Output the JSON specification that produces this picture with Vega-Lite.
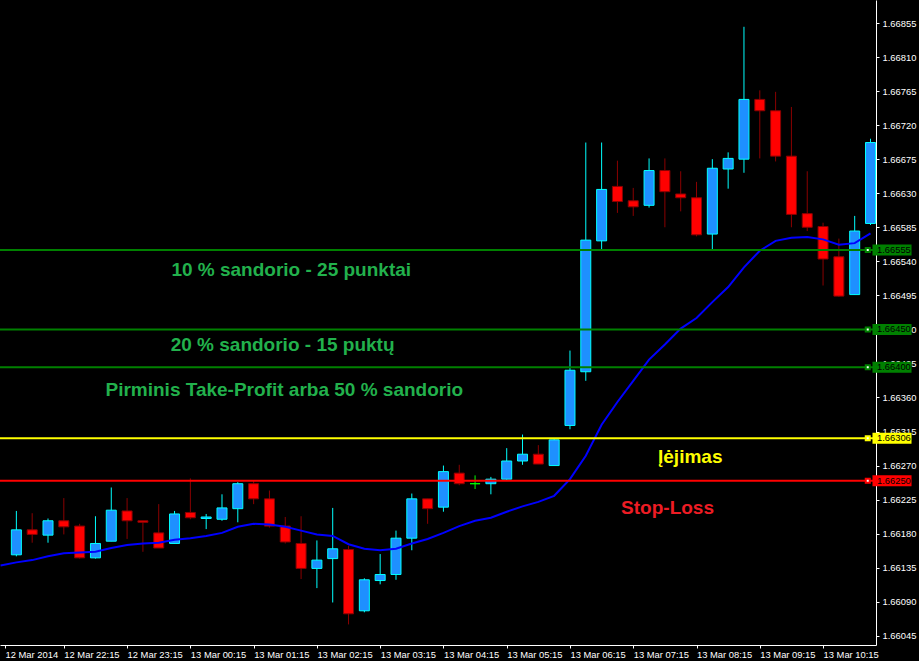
{
  "$schema": "https://vega.github.io/schema/vega-lite/v6.json",
  "width": 876,
  "height": 645,
  "autosize": {"type": "none"},
  "padding": {"left": 0, "top": 0, "right": 43, "bottom": 16},
  "background": "#000000",
  "config": {
    "view": {"stroke": null, "fill": "#000000"},
    "axis": {"domainColor": "#FFFFFF", "tickColor": "#FFFFFF", "labelColor": "#FFFFFF", "labelFont": "Liberation Sans", "labelFontSize": 9.4, "grid": false, "domainWidth": 1, "tickWidth": 1, "tickSize": 3, "labelOverlap": false, "labelFlush": false}
  },
  "resolve": {"scale": {"color": "independent"}},
  "datasets": {
    "candles": [
      {"t": "2014-03-12T21:30:00", "o": 1.66152, "h": 1.66210, "l": 1.66150, "c": 1.66185},
      {"t": "2014-03-12T21:45:00", "o": 1.66185, "h": 1.66207, "l": 1.66168, "c": 1.66179},
      {"t": "2014-03-12T22:00:00", "o": 1.66178, "h": 1.66200, "l": 1.66168, "c": 1.66197},
      {"t": "2014-03-12T22:15:00", "o": 1.66197, "h": 1.66227, "l": 1.66179, "c": 1.66189},
      {"t": "2014-03-12T22:30:00", "o": 1.66190, "h": 1.66193, "l": 1.66147, "c": 1.66148},
      {"t": "2014-03-12T22:45:00", "o": 1.66148, "h": 1.66203, "l": 1.66147, "c": 1.66167},
      {"t": "2014-03-12T23:00:00", "o": 1.66170, "h": 1.66241, "l": 1.66170, "c": 1.66211},
      {"t": "2014-03-12T23:15:00", "o": 1.66210, "h": 1.66227, "l": 1.66173, "c": 1.66197},
      {"t": "2014-03-12T23:30:00", "o": 1.66197, "h": 1.66197, "l": 1.66156, "c": 1.66195},
      {"t": "2014-03-12T23:45:00", "o": 1.66181, "h": 1.66219, "l": 1.66161, "c": 1.66161},
      {"t": "2014-03-13T00:00:00", "o": 1.66167, "h": 1.66210, "l": 1.66167, "c": 1.66206},
      {"t": "2014-03-13T00:15:00", "o": 1.66208, "h": 1.66253, "l": 1.66199, "c": 1.66201},
      {"t": "2014-03-13T00:30:00", "o": 1.66200, "h": 1.66206, "l": 1.66186, "c": 1.66202},
      {"t": "2014-03-13T00:45:00", "o": 1.66199, "h": 1.66232, "l": 1.66197, "c": 1.66214},
      {"t": "2014-03-13T01:00:00", "o": 1.66213, "h": 1.66248, "l": 1.66195, "c": 1.66246},
      {"t": "2014-03-13T01:15:00", "o": 1.66246, "h": 1.66250, "l": 1.66219, "c": 1.66226},
      {"t": "2014-03-13T01:30:00", "o": 1.66226, "h": 1.66237, "l": 1.66188, "c": 1.66190},
      {"t": "2014-03-13T01:45:00", "o": 1.66190, "h": 1.66202, "l": 1.66167, "c": 1.66169},
      {"t": "2014-03-13T02:00:00", "o": 1.66167, "h": 1.66203, "l": 1.66120, "c": 1.66134},
      {"t": "2014-03-13T02:15:00", "o": 1.66134, "h": 1.66171, "l": 1.66108, "c": 1.66145},
      {"t": "2014-03-13T02:30:00", "o": 1.66147, "h": 1.66214, "l": 1.66089, "c": 1.66160},
      {"t": "2014-03-13T02:45:00", "o": 1.66159, "h": 1.66164, "l": 1.66060, "c": 1.66074},
      {"t": "2014-03-13T03:00:00", "o": 1.66078, "h": 1.66121, "l": 1.66076, "c": 1.66119},
      {"t": "2014-03-13T03:15:00", "o": 1.66118, "h": 1.66153, "l": 1.66113, "c": 1.66126},
      {"t": "2014-03-13T03:30:00", "o": 1.66126, "h": 1.66184, "l": 1.66119, "c": 1.66174},
      {"t": "2014-03-13T03:45:00", "o": 1.66174, "h": 1.66233, "l": 1.66158, "c": 1.66226},
      {"t": "2014-03-13T04:00:00", "o": 1.66226, "h": 1.66226, "l": 1.66193, "c": 1.66213},
      {"t": "2014-03-13T04:15:00", "o": 1.66215, "h": 1.66270, "l": 1.66209, "c": 1.66262},
      {"t": "2014-03-13T04:30:00", "o": 1.66260, "h": 1.66271, "l": 1.66244, "c": 1.66246},
      {"t": "2014-03-13T04:45:00", "o": 1.66246, "h": 1.66257, "l": 1.66239, "c": 1.66246},
      {"t": "2014-03-13T05:00:00", "o": 1.66246, "h": 1.66255, "l": 1.66232, "c": 1.66252},
      {"t": "2014-03-13T05:15:00", "o": 1.66252, "h": 1.66293, "l": 1.66251, "c": 1.66276},
      {"t": "2014-03-13T05:30:00", "o": 1.66276, "h": 1.66311, "l": 1.66271, "c": 1.66285},
      {"t": "2014-03-13T05:45:00", "o": 1.66285, "h": 1.66297, "l": 1.66272, "c": 1.66272},
      {"t": "2014-03-13T06:00:00", "o": 1.66270, "h": 1.66305, "l": 1.66270, "c": 1.66304},
      {"t": "2014-03-13T06:15:00", "o": 1.66323, "h": 1.66422, "l": 1.66318, "c": 1.66396},
      {"t": "2014-03-13T06:30:00", "o": 1.66394, "h": 1.66697, "l": 1.66382, "c": 1.66568},
      {"t": "2014-03-13T06:45:00", "o": 1.66567, "h": 1.66697, "l": 1.66556, "c": 1.66635},
      {"t": "2014-03-13T07:00:00", "o": 1.66639, "h": 1.66673, "l": 1.66604, "c": 1.66619},
      {"t": "2014-03-13T07:15:00", "o": 1.66620, "h": 1.66637, "l": 1.66600, "c": 1.66612},
      {"t": "2014-03-13T07:30:00", "o": 1.66614, "h": 1.66676, "l": 1.66611, "c": 1.66660},
      {"t": "2014-03-13T07:45:00", "o": 1.66660, "h": 1.66676, "l": 1.66585, "c": 1.66632},
      {"t": "2014-03-13T08:00:00", "o": 1.66629, "h": 1.66659, "l": 1.66606, "c": 1.66624},
      {"t": "2014-03-13T08:15:00", "o": 1.66624, "h": 1.66645, "l": 1.66573, "c": 1.66575},
      {"t": "2014-03-13T08:30:00", "o": 1.66576, "h": 1.66675, "l": 1.66556, "c": 1.66663},
      {"t": "2014-03-13T08:45:00", "o": 1.66662, "h": 1.66684, "l": 1.66636, "c": 1.66676},
      {"t": "2014-03-13T09:00:00", "o": 1.66675, "h": 1.66850, "l": 1.66657, "c": 1.66754},
      {"t": "2014-03-13T09:15:00", "o": 1.66754, "h": 1.66766, "l": 1.66676, "c": 1.66739},
      {"t": "2014-03-13T09:30:00", "o": 1.66739, "h": 1.66764, "l": 1.66672, "c": 1.66679},
      {"t": "2014-03-13T09:45:00", "o": 1.66679, "h": 1.66744, "l": 1.66585, "c": 1.66602},
      {"t": "2014-03-13T10:00:00", "o": 1.66603, "h": 1.66659, "l": 1.66580, "c": 1.66585},
      {"t": "2014-03-13T10:15:00", "o": 1.66586, "h": 1.66591, "l": 1.66508, "c": 1.66543},
      {"t": "2014-03-13T10:30:00", "o": 1.66546, "h": 1.66570, "l": 1.66493, "c": 1.66494},
      {"t": "2014-03-13T10:45:00", "o": 1.66496, "h": 1.66600, "l": 1.66496, "c": 1.66580},
      {"t": "2014-03-13T11:00:00", "o": 1.66590, "h": 1.66702, "l": 1.66588, "c": 1.66697}
    ],
    "ma": [
      {"t": "2014-03-12T21:15:00", "v": 1.66138},
      {"t": "2014-03-12T21:30:00", "v": 1.66142},
      {"t": "2014-03-12T21:45:00", "v": 1.66145},
      {"t": "2014-03-12T22:00:00", "v": 1.66150},
      {"t": "2014-03-12T22:15:00", "v": 1.66154},
      {"t": "2014-03-12T22:30:00", "v": 1.66155},
      {"t": "2014-03-12T22:45:00", "v": 1.66156},
      {"t": "2014-03-12T23:00:00", "v": 1.66161},
      {"t": "2014-03-12T23:15:00", "v": 1.66165},
      {"t": "2014-03-12T23:30:00", "v": 1.66167},
      {"t": "2014-03-12T23:45:00", "v": 1.66168},
      {"t": "2014-03-13T00:00:00", "v": 1.66172},
      {"t": "2014-03-13T00:15:00", "v": 1.66174},
      {"t": "2014-03-13T00:30:00", "v": 1.66177},
      {"t": "2014-03-13T00:45:00", "v": 1.66181},
      {"t": "2014-03-13T01:00:00", "v": 1.66189},
      {"t": "2014-03-13T01:15:00", "v": 1.66193},
      {"t": "2014-03-13T01:30:00", "v": 1.66192},
      {"t": "2014-03-13T01:45:00", "v": 1.66189},
      {"t": "2014-03-13T02:00:00", "v": 1.66184},
      {"t": "2014-03-13T02:15:00", "v": 1.66179},
      {"t": "2014-03-13T02:30:00", "v": 1.66177},
      {"t": "2014-03-13T02:45:00", "v": 1.66166},
      {"t": "2014-03-13T03:00:00", "v": 1.66160},
      {"t": "2014-03-13T03:15:00", "v": 1.66158},
      {"t": "2014-03-13T03:30:00", "v": 1.66160},
      {"t": "2014-03-13T03:45:00", "v": 1.66167},
      {"t": "2014-03-13T04:00:00", "v": 1.66173},
      {"t": "2014-03-13T04:15:00", "v": 1.66181},
      {"t": "2014-03-13T04:30:00", "v": 1.66190},
      {"t": "2014-03-13T04:45:00", "v": 1.66197},
      {"t": "2014-03-13T05:00:00", "v": 1.66201},
      {"t": "2014-03-13T05:15:00", "v": 1.66209},
      {"t": "2014-03-13T05:30:00", "v": 1.66216},
      {"t": "2014-03-13T05:45:00", "v": 1.66222},
      {"t": "2014-03-13T06:00:00", "v": 1.66230},
      {"t": "2014-03-13T06:15:00", "v": 1.66252},
      {"t": "2014-03-13T06:30:00", "v": 1.66283},
      {"t": "2014-03-13T06:45:00", "v": 1.66324},
      {"t": "2014-03-13T07:00:00", "v": 1.66354},
      {"t": "2014-03-13T07:15:00", "v": 1.66382},
      {"t": "2014-03-13T07:30:00", "v": 1.66410},
      {"t": "2014-03-13T07:45:00", "v": 1.66430},
      {"t": "2014-03-13T08:00:00", "v": 1.66451},
      {"t": "2014-03-13T08:15:00", "v": 1.66465},
      {"t": "2014-03-13T08:30:00", "v": 1.66486},
      {"t": "2014-03-13T08:45:00", "v": 1.66506},
      {"t": "2014-03-13T09:00:00", "v": 1.66532},
      {"t": "2014-03-13T09:15:00", "v": 1.66554},
      {"t": "2014-03-13T09:30:00", "v": 1.66567},
      {"t": "2014-03-13T09:45:00", "v": 1.66571},
      {"t": "2014-03-13T10:00:00", "v": 1.66572},
      {"t": "2014-03-13T10:15:00", "v": 1.66569},
      {"t": "2014-03-13T10:30:00", "v": 1.66562},
      {"t": "2014-03-13T10:45:00", "v": 1.66564},
      {"t": "2014-03-13T11:00:00", "v": 1.66577}
    ],
    "levels": [
      {"name": "tp1", "price": 1.66555},
      {"name": "tp2", "price": 1.66450},
      {"name": "tp3", "price": 1.66400},
      {"name": "entry", "price": 1.66306},
      {"name": "sl", "price": 1.66250}
    ],
    "notes": [
      {"t": "2014-03-12T23:57:00", "p": 1.66520, "txt": "10 % sandorio - 25 punktai", "kind": "tp"},
      {"t": "2014-03-12T23:56:20", "p": 1.66422, "txt": "20 % sandorio - 15 puktų", "kind": "tp"},
      {"t": "2014-03-12T22:54:30", "p": 1.663625, "txt": "Pirminis Take-Profit arba 50 % sandorio", "kind": "tp"},
      {"t": "2014-03-13T07:38:30", "p": 1.662737, "txt": "Įėjimas", "kind": "entry"},
      {"t": "2014-03-13T07:03:30", "p": 1.662064, "txt": "Stop-Loss", "kind": "sl"}
    ]
  },
  "layer": [
    {
      "data": {"name": "candles"},
      "mark": {"type": "rule", "strokeWidth": 1, "clip": true},
      "encoding": {
        "x": {"field": "t", "type": "temporal", "title": null,
          "scale": {"type": "time", "domain": [{"year": 2014, "month": 3, "date": 12, "hours": 21, "minutes": 19, "seconds": 13, "milliseconds": 125}, {"year": 2014, "month": 3, "date": 13, "hours": 11, "minutes": 0, "seconds": 28, "milliseconds": 125}]},
          "axis": {"orient": "bottom", "labelAlign": "left", "labelFlush": false, "labelOverlap": false, "labelPadding": 2, "labelBaseline": "top", "tickCount": 40,
            "labelExpr": "hours(datum.value) == 21 ? '12 Mar 2014' : timeFormat(datum.value, '%d %b %H:%M')",
            "values": [
              {"year": 2014, "month": 3, "date": 12, "hours": 21, "minutes": 19, "seconds": 13, "milliseconds": 125},
              {"year": 2014, "month": 3, "date": 12, "hours": 22, "minutes": 15},
              {"year": 2014, "month": 3, "date": 12, "hours": 23, "minutes": 15},
              {"year": 2014, "month": 3, "date": 13, "hours": 0, "minutes": 15},
              {"year": 2014, "month": 3, "date": 13, "hours": 1, "minutes": 15},
              {"year": 2014, "month": 3, "date": 13, "hours": 2, "minutes": 15},
              {"year": 2014, "month": 3, "date": 13, "hours": 3, "minutes": 15},
              {"year": 2014, "month": 3, "date": 13, "hours": 4, "minutes": 15},
              {"year": 2014, "month": 3, "date": 13, "hours": 5, "minutes": 15},
              {"year": 2014, "month": 3, "date": 13, "hours": 6, "minutes": 15},
              {"year": 2014, "month": 3, "date": 13, "hours": 7, "minutes": 15},
              {"year": 2014, "month": 3, "date": 13, "hours": 8, "minutes": 15},
              {"year": 2014, "month": 3, "date": 13, "hours": 9, "minutes": 15},
              {"year": 2014, "month": 3, "date": 13, "hours": 10, "minutes": 15}
            ]}},
        "y": {"field": "l", "type": "quantitative", "title": null,
          "scale": {"type": "linear", "domain": [1.660394, 1.668788], "zero": false, "nice": false},
          "axis": {"orient": "right", "format": ".5f", "labelPadding": 3, "labelFlush": false, "labelOverlap": false, "labelBound": false, "tickCount": 40,
            "values": [1.66045, 1.66090, 1.66135, 1.66180, 1.66225, 1.66270, 1.66315, 1.66360, 1.66405, 1.66450, 1.66495, 1.66540, 1.66585, 1.66630, 1.66675, 1.66720, 1.66765, 1.66810, 1.66855]}},
        "y2": {"field": "h"},
        "color": {"condition": [{"test": "datum.c == datum.o", "value": "#00FF00"}, {"test": "datum.c > datum.o", "value": "#00FFFF"}], "value": "#8B0000"}
      }
    },
    {
      "data": {"name": "candles"},
      "mark": {"type": "bar", "size": 10, "strokeWidth": 1, "clip": true},
      "encoding": {
        "x": {"field": "t", "type": "temporal", "title": null},
        "y": {"field": "o", "type": "quantitative", "title": null},
        "y2": {"field": "c"},
        "fill": {"condition": [{"test": "datum.c == datum.o", "value": "#00FF00"}, {"test": "datum.c > datum.o", "value": "#1E90FF"}], "value": "#FF0000"},
        "stroke": {"condition": [{"test": "datum.c == datum.o", "value": "#00FF00"}, {"test": "datum.c > datum.o", "value": "#00FFFF"}], "value": "#8B0000"}
      }
    },
    {
      "data": {"name": "ma"},
      "mark": {"type": "line", "color": "#0000FF", "strokeWidth": 2, "clip": true},
      "encoding": {
        "x": {"field": "t", "type": "temporal", "title": null},
        "y": {"field": "v", "type": "quantitative", "title": null}
      }
    },
    {
      "data": {"name": "levels"},
      "mark": {"type": "rule", "strokeWidth": 2},
      "encoding": {
        "y": {"field": "price", "type": "quantitative", "title": null},
        "color": {"field": "name", "type": "nominal", "legend": null,
          "scale": {"domain": ["tp1", "tp2", "tp3", "entry", "sl"], "range": ["#008000", "#008000", "#008000", "#FFFF00", "#FF0000"]}}
      }
    },
    {
      "data": {"name": "levels"},
      "mark": {"type": "square", "size": 16, "filled": false, "fill": "#FFFFFF", "fillOpacity": 1, "strokeWidth": 2, "opacity": 1},
      "encoding": {
        "x": {"datum": {"year": 2014, "month": 3, "date": 13, "hours": 10, "minutes": 57, "seconds": 23}, "type": "temporal", "title": null},
        "y": {"field": "price", "type": "quantitative", "title": null},
        "stroke": {"field": "name", "type": "nominal", "legend": null,
          "scale": {"domain": ["tp1", "tp2", "tp3", "entry", "sl"], "range": ["#008000", "#008000", "#008000", "#FFFF00", "#FF0000"]}}
      }
    },
    {
      "data": {"name": "levels"},
      "mark": {"type": "bar", "size": 11, "orient": "horizontal", "clip": false},
      "encoding": {
        "x": {"datum": {"year": 2014, "month": 3, "date": 13, "hours": 11, "minutes": 1, "seconds": 52}, "type": "temporal", "title": null},
        "x2": {"datum": {"year": 2014, "month": 3, "date": 13, "hours": 11, "minutes": 38, "seconds": 54}},
        "y": {"field": "price", "type": "quantitative", "title": null},
        "color": {"field": "name", "type": "nominal", "legend": null,
          "scale": {"domain": ["tp1", "tp2", "tp3", "entry", "sl"], "range": ["#008000", "#008000", "#008000", "#FFFF00", "#FF0000"]}}
      }
    },
    {
      "data": {"name": "levels"},
      "mark": {"type": "text", "align": "left", "baseline": "middle", "font": "Liberation Sans", "fontSize": 9.4, "color": "#000000", "clip": false},
      "encoding": {
        "x": {"datum": {"year": 2014, "month": 3, "date": 13, "hours": 11, "minutes": 6, "seconds": 6}, "type": "temporal", "title": null},
        "y": {"field": "price", "type": "quantitative", "title": null},
        "text": {"field": "price", "type": "quantitative", "format": ".5f"}
      }
    },
    {
      "data": {"name": "notes"},
      "mark": {"type": "text", "align": "left", "baseline": "alphabetic", "font": "Liberation Sans", "fontSize": 19, "fontWeight": "bold"},
      "encoding": {
        "x": {"field": "t", "type": "temporal", "title": null},
        "y": {"field": "p", "type": "quantitative", "title": null},
        "text": {"field": "txt", "type": "nominal"},
        "color": {"field": "kind", "type": "nominal", "legend": null,
          "scale": {"domain": ["tp", "entry", "sl"], "range": ["#22B14C", "#FFFF00", "#ED1C24"]}}
      }
    }
  ]
}
